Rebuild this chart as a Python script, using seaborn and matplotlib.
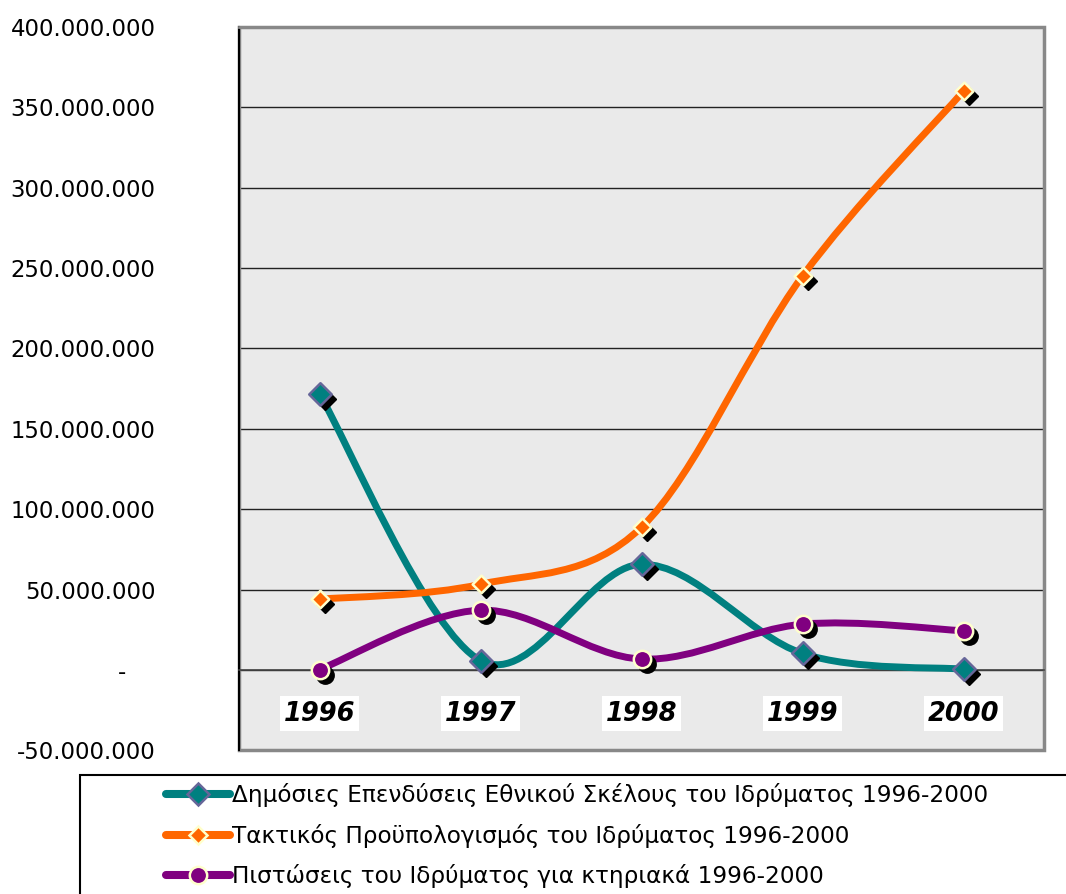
import numpy as np
import pandas as pd
import seaborn as sns
import matplotlib
matplotlib.use("Agg")
import matplotlib.pyplot as plt
import matplotlib.transforms as mtransforms
from matplotlib.path import Path
from matplotlib.patches import PathPatch, Rectangle
from matplotlib.lines import Line2D

# datos
years = ["1996", "1997", "1998", "1999", "2000"]
dimosies = [171.6e6, 5.9e6, 65.7e6, 10.3e6, 0.5e6]
taktikos = [44.0e6, 53.3e6, 88.8e6, 245.0e6, 360.0e6]
pistoseis = [0.3e6, 37.2e6, 6.8e6, 28.5e6, 24.4e6]

series_names = [
    "Δημόσιες Επενδύσεις Εθνικού Σκέλους του Ιδρύματος 1996-2000",
    "Τακτικός Προϋπολογισμός του Ιδρύματος 1996-2000",
    "Πιστώσεις του Ιδρύματος για κτηριακά 1996-2000",
]
y_ticks = [-50e6, 0, 50e6, 100e6, 150e6, 200e6, 250e6, 300e6, 350e6, 400e6]
y_labels = ["-50.000.000", "-    ", "50.000.000", "100.000.000", "150.000.000",
            "200.000.000", "250.000.000", "300.000.000", "350.000.000", "400.000.000"]

df = pd.DataFrame({"year": years, "x": range(len(years)),
                   "s0": dimosies, "s1": taktikos, "s2": pistoseis})

sns.set_style("white")
plt.rcParams["font.family"] = ["DejaVu Sans"]
plt.rcParams["text.color"] = "black"
plt.rcParams["xtick.color"] = "black"
plt.rcParams["ytick.color"] = "black"

fig = plt.figure(figsize=(10.66, 8.94), dpi=100)
ax = fig.add_axes([239 / 1066, 1 - 750.4 / 894, 805 / 1066, 723.6 / 894])
ax.set_facecolor("#EAEAEA")

estilos = [
    dict(color="#008080", marker="D", ms=11.5, edge="#666699"),
    dict(color="#FF6600", marker="D", ms=9, edge="#FFFFCC"),
    dict(color="#800080", marker="o", ms=12.5, edge="#FFFFCC"),
]


def curva_suave(xs, ys):
    # curva tipo Excel (Catmull-Rom -> Bezier)
    pts = np.column_stack([xs, ys]).astype(float)
    ext = np.vstack([pts[0], pts, pts[-1]])
    verts = [pts[0]]
    codes = [Path.MOVETO]
    for i in range(len(pts) - 1):
        p0, p1, p2, p3 = ext[i], ext[i + 1], ext[i + 2], ext[i + 3]
        verts += [p1 + (p2 - p0) / 6, p2 - (p3 - p1) / 6, p2]
        codes += [Path.CURVE4] * 3
    return Path(verts, codes)


sombra = mtransforms.offset_copy(ax.transData, fig=fig, x=5, y=-5, units="dots")

for i, est in enumerate(estilos):
    col = f"s{i}"
    ax.add_patch(PathPatch(curva_suave(df["x"], df[col]), fill=False,
                           edgecolor=est["color"], lw=5.0, capstyle="round",
                           joinstyle="round", zorder=3 + i))
    # sombra negra de los marcadores
    ax.plot(df["x"], df[col], ls="none", marker=est["marker"], ms=est["ms"],
            color="black", mec="black", transform=sombra, zorder=3 + i)
    sns.scatterplot(data=df, x="x", y=col, marker=est["marker"],
                    s=est["ms"] ** 2, color=est["color"], edgecolor=est["edge"],
                    linewidth=1.8, ax=ax, zorder=3.5 + i, legend=False)

ax.set_xlim(-0.5, 4.5)
ax.set_ylim(-50e6, 400e6)
ax.set_xlabel("")
ax.set_ylabel("")

# eje y
ax.set_yticks(y_ticks)
ax.set_yticklabels(y_labels, fontsize=16.4, color="black")
ax.tick_params(axis="y", direction="out", length=8, width=1, color="black", pad=52)
ax.yaxis.grid(True, color="#222222", lw=1)
ax.set_axisbelow(True)

# eje x en y=0, ticks en los limites de categoria
ax.spines["bottom"].set_position(("data", 0))
ax.spines["bottom"].set_color("#444444")
ax.spines["bottom"].set_linewidth(1.2)
ax.set_xticks(np.arange(-0.5, 5, 1.0))
ax.set_xticklabels([])
ax.set_xticks(range(len(years)), minor=True)
ax.set_xticklabels(years, minor=True, fontsize=18.5, fontweight="bold", style="italic",
                   color="black", bbox=dict(facecolor="white", edgecolor="none", pad=3))
ax.tick_params(axis="x", which="major", direction="in", length=9, width=1, color="black")
ax.tick_params(axis="x", which="minor", length=0, pad=22)

ax.spines["left"].set_color("black")
ax.spines["left"].set_linewidth(1.5)
for s in ["top", "right"]:
    ax.spines[s].set_color("#888888")
    ax.spines[s].set_linewidth(2)
ax.add_patch(Rectangle((0, 0), 1, 1, transform=ax.transAxes, fill=False,
                       edgecolor="#888888", lw=2.5, clip_on=False, zorder=1))
ax.spines["left"].set_zorder(2)

# leyenda
fig.patches.append(Rectangle((80 / 1066, -0.1), 1.1, 0.1 + (894 - 775) / 894,
                             transform=fig.transFigure, fill=False,
                             edgecolor="black", lw=1.5))
handles = [Line2D([], [], color=e["color"], lw=5.8, marker=e["marker"],
                  ms=e["ms"], mfc=e["color"], mec=e["edge"], mew=1.8,
                  solid_capstyle="round")
           for e in estilos]
fig.legend(handles, series_names, loc="upper left",
           bbox_to_anchor=(166 / 1066, 1 - 783 / 894), frameon=False,
           prop={"family": "DejaVu Sans", "size": 16.7},
           handlelength=64 / (16.7 * 1.389), handletextpad=0.1,
           labelspacing=0.72, borderpad=0, borderaxespad=0)

fig.savefig("out.png", dpi=100)
